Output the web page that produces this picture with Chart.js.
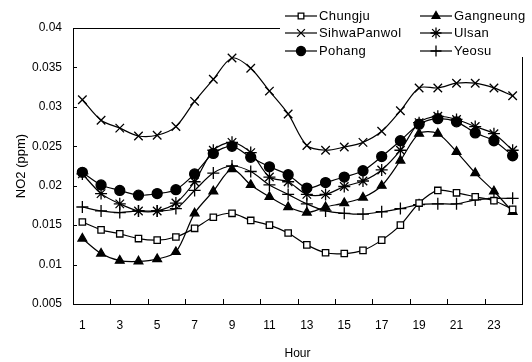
<!DOCTYPE html>
<html>
<head>
<meta charset="utf-8">
<script src="https://cdn.jsdelivr.net/npm/chart.js@4/dist/chart.umd.min.js"></script>
<style>
  html, body { margin: 0; padding: 0; background: #fff; }
  #wrap { width: 532px; height: 362px; }
</style>
</head>
<body>
<div id="wrap"><canvas id="chart" width="532" height="362"></canvas></div>
<script>
// hourly NO2 (ppm) by station
const hours = ["1","2","3","4","5","6","7","8","9","10","11","12","13","14","15","16","17","18","19","20","21","22","23","24"];
const yTicks = [0.005, 0.01, 0.015, 0.02, 0.025, 0.03, 0.035, 0.04];

const chungju = [0.0154,0.0144,0.0139,0.0133,0.0131,0.0135,0.0146,0.0160,0.0165,0.0156,0.0150,0.0140,0.0125,0.0115,0.0114,0.0118,0.0131,0.0150,0.0178,0.0194,0.0191,0.0186,0.0181,0.0170];
const gangneung = [0.0133,0.0114,0.0105,0.0104,0.0107,0.0116,0.0165,0.0193,0.0221,0.0201,0.0186,0.0173,0.0166,0.0173,0.0178,0.0185,0.0200,0.0232,0.0266,0.0266,0.0243,0.0216,0.0193,0.0167];
const sihwa = [0.0309,0.0283,0.0273,0.0263,0.0264,0.0275,0.0307,0.0335,0.0362,0.0349,0.0320,0.0291,0.0251,0.0245,0.0249,0.0255,0.0269,0.0295,0.0324,0.0324,0.0330,0.0330,0.0324,0.0314];
const ulsan = [0.0215,0.0190,0.0177,0.0168,0.0168,0.0178,0.0205,0.0245,0.0255,0.0242,0.0211,0.0205,0.0189,0.0189,0.0199,0.0206,0.0220,0.0245,0.0280,0.0288,0.0284,0.0275,0.0266,0.0245];
const pohang = [0.0217,0.0201,0.0194,0.0188,0.0190,0.0195,0.0215,0.0241,0.0250,0.0236,0.0224,0.0214,0.0197,0.0204,0.0211,0.0219,0.0237,0.0257,0.0278,0.0285,0.0281,0.0267,0.0257,0.0238];
const yeosu = [0.0173,0.0168,0.0166,0.0168,0.0168,0.0171,0.0194,0.0216,0.0225,0.0218,0.0201,0.0189,0.0177,0.0168,0.0165,0.0164,0.0167,0.0171,0.0176,0.0177,0.0177,0.0182,0.0184,0.0184];

const FONT = "'Liberation Sans', Arial, sans-serif";

function series(label, data, style, radius, fill) {
  return {
    label: label,
    data: data,
    borderColor: "#000",
    borderWidth: 1.2,
    tension: 0.3,
    pointStyle: style,
    pointRadius: radius,
    pointBorderColor: "#000",
    pointBackgroundColor: fill,
    pointBorderWidth: 1.3,
  };
}

// frame + inward tick marks
const framePlugin = {
  id: "frame",
  beforeDatasetsDraw(chart) {
    const { ctx, chartArea: a, scales } = chart;
    ctx.save();
    ctx.strokeStyle = "#000";
    ctx.lineWidth = 1;
    ctx.strokeRect(a.left + 0.5, a.top + 0.5, a.right - a.left, a.bottom - a.top);
    yTicks.forEach((v) => {
      const y = Math.round(scales.y.getPixelForValue(v)) + 0.5;
      ctx.beginPath();
      ctx.moveTo(a.left, y);
      ctx.lineTo(a.left + 4, y);
      ctx.stroke();
    });
    for (let i = 1; i < hours.length; i += 2) {
      const x = Math.round((scales.x.getPixelForValue(i) + scales.x.getPixelForValue(i + 1)) / 2) + 0.5;
      ctx.beginPath();
      ctx.moveTo(x, a.bottom);
      ctx.lineTo(x, a.bottom - 5);
      ctx.stroke();
    }
    ctx.restore();
  },
};

// two-column legend in the top right corner
const legendPlugin = {
  id: "boxLegend",
  afterDraw(chart) {
    const { ctx } = chart;
    const sets = chart.data.datasets;
    ctx.save();
    ctx.fillStyle = "#fff";
    ctx.fillRect(280, 0, 252, 57);
    const cols = [285, 420];
    const rows = [16, 33, 51];
    ctx.font = "13px " + FONT;
    ctx.letterSpacing = "0.4px";
    ctx.textBaseline = "middle";
    sets.forEach((ds, i) => {
      const x = cols[i % 2];
      const y = rows[Math.floor(i / 2)];
      ctx.strokeStyle = "#000";
      ctx.lineWidth = 1.2;
      ctx.beginPath();
      ctx.moveTo(x, y);
      ctx.lineTo(x + 32, y);
      ctx.stroke();
      ctx.fillStyle = ds.pointBackgroundColor;
      ctx.lineWidth = ds.pointBorderWidth;
      Chart.helpers.drawPoint(ctx, {
        pointStyle: ds.pointStyle,
        radius: ds.pointRadius - 0.5,
        rotation: 0,
        borderWidth: ds.pointBorderWidth,
      }, x + 16, y);
      ctx.fillStyle = "#000";
      ctx.fillText(ds.label, x + 34, y);
    });
    ctx.restore();
  },
};

const ctx = document.getElementById("chart").getContext("2d");
new Chart(ctx, {
  type: "line",
  data: {
    labels: hours,
    datasets: [
      series("Chungju", chungju, "rect", 4.5, "#fff"),
      series("Gangneung", gangneung, "triangle", 5, "#000"),
      series("SihwaPanwol", sihwa, "crossRot", 6, "#fff"),
      series("Ulsan", ulsan, "star", 6, "#fff"),
      series("Pohang", pohang, "circle", 5, "#000"),
      series("Yeosu", yeosu, "cross", 6, "#fff"),
    ],
  },
  options: {
    responsive: false,
    animation: false,
    layout: { padding: { left: 0, right: 10, top: 28, bottom: 0 } },
    plugins: { legend: { display: false }, tooltip: { enabled: false } },
    scales: {
      x: {
        type: "category",
        offset: true,
        grid: { display: false, drawTicks: false },
        border: { display: false },
        ticks: {
          autoSkip: false,
          maxRotation: 0,
          padding: 14,
          color: "#000",
          font: { family: FONT, size: 12 },
          callback: function (val, i) { return i % 2 === 0 ? hours[i] : ""; },
        },
        title: {
          display: true,
          text: "Hour",
          color: "#000",
          font: { family: FONT, size: 12 },
          padding: { top: 0, bottom: 1 },
        },
        afterFit(scale) { scale.height = 58; },
      },
      y: {
        min: 0.005,
        max: 0.04,
        grid: { display: false, drawTicks: false },
        border: { display: false },
        afterBuildTicks(scale) { scale.ticks = yTicks.map((v) => ({ value: v })); },
        ticks: {
          padding: 11,
          color: "#000",
          font: { family: FONT, size: 12 },
          callback: (v) => String(+v.toFixed(3)),
        },
        title: {
          display: true,
          text: "NO2 (ppm)",
          color: "#000",
          font: { family: FONT, size: 13 },
          padding: { top: 14, bottom: 0 },
        },
        afterFit(scale) { scale.width = 73; },
      },
    },
  },
  plugins: [framePlugin, legendPlugin],
});
</script>
</body>
</html>
